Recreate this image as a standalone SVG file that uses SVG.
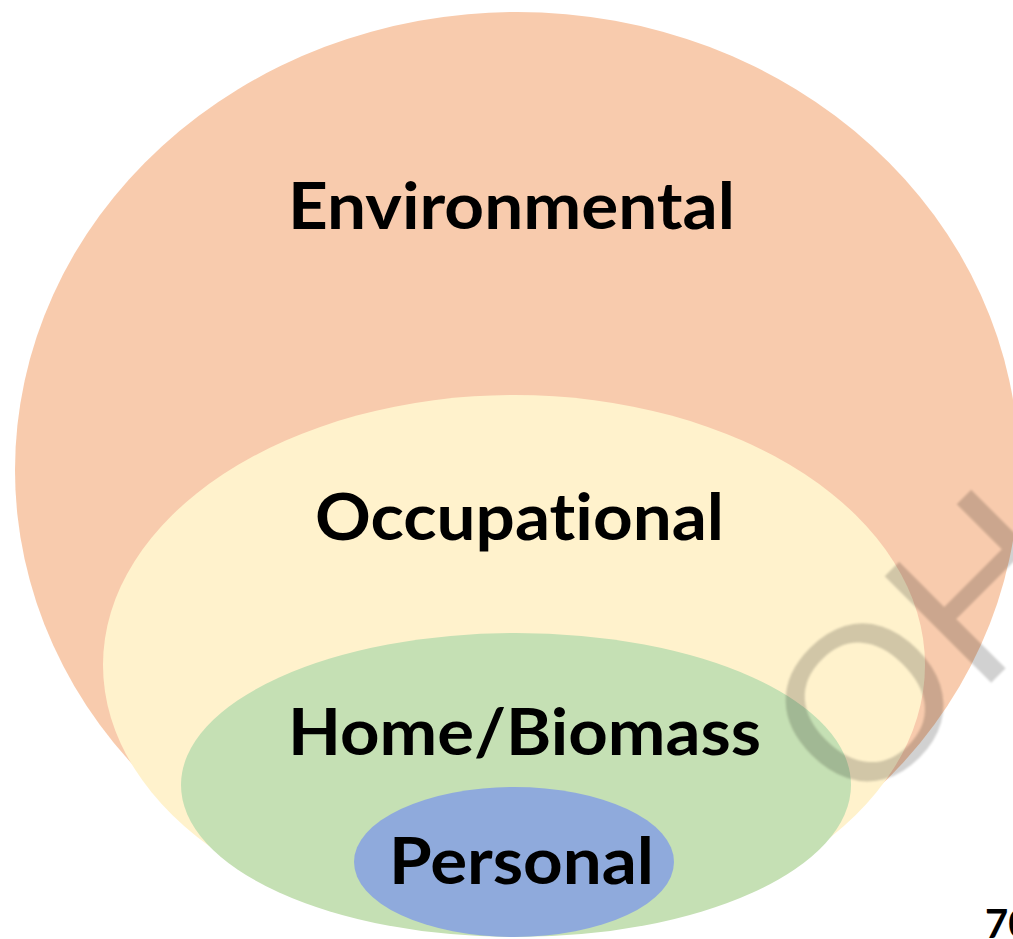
<svg xmlns="http://www.w3.org/2000/svg" width="1013" height="939" viewBox="0 0 1013 939">
  <defs>
    <style>
      .label { font-family: Lato, "Liberation Sans", sans-serif; font-weight: 700; font-size: 65px; fill: #000; font-variant-ligatures: none; }
      .mark { font-family: "Liberation Sans", Arial, sans-serif; font-weight: 400; font-size: 219px; fill: #000; fill-opacity: 0.18; }
    </style>
    <filter id="soft" x="-10%" y="-10%" width="120%" height="120%">
      <feGaussianBlur stdDeviation="0.8"/>
    </filter>
  </defs>
  <rect width="1013" height="939" fill="#ffffff"/>

  <!-- nested exposure levels, outermost first -->
  <g id="environmental">
    <ellipse cx="517" cy="470" rx="502" ry="458" fill="#F8CBAD"/>
    <text class="label" x="288" y="229" textLength="447" lengthAdjust="spacingAndGlyphs">Environmental</text>
  </g>
  <g id="occupational">
    <ellipse cx="514" cy="665" rx="411" ry="270" fill="#FFF2CC"/>
    <text class="label" x="315" y="540" textLength="409" lengthAdjust="spacingAndGlyphs">Occupational</text>
  </g>
  <g id="home-biomass">
    <ellipse cx="516" cy="785" rx="335" ry="152" fill="#C5E0B4"/>
    <text class="label" x="288" y="755" textLength="473" lengthAdjust="spacingAndGlyphs">Home/Biomass</text>
  </g>
  <g id="personal">
    <ellipse cx="514" cy="862" rx="160" ry="75" fill="#8FAADC"/>
    <text class="label" x="389" y="884" textLength="265" lengthAdjust="spacingAndGlyphs">Personal</text>
  </g>

  <!-- page number -->
  <text x="985" y="938" style="font-family: Lato, 'Liberation Sans', sans-serif; font-weight: 700; font-size: 40px; fill: #000;">70</text>

  <!-- diagonal watermark -->
  <g filter="url(#soft)">
    <text class="mark" transform="translate(858 816) rotate(-45)">OH</text>
  </g>

  <g id="connectors"/>
</svg>
